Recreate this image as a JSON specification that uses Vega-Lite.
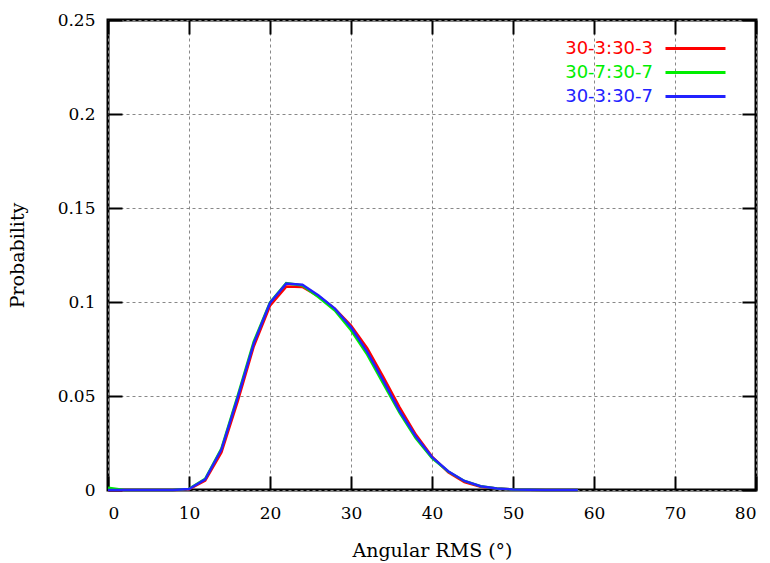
{
  "$schema": "https://vega.github.io/schema/vega-lite/v6.json",
  "width": 648,
  "height": 470,
  "autosize": "none",
  "padding": {"left": 108, "top": 20, "right": 14, "bottom": 73},
  "background": "white",
  "config": {
    "view": {"stroke": "black", "strokeWidth": 3},
    "axis": {
      "labelFont": "DejaVu Serif",
      "labelFontSize": 17,
      "labelColor": "black",
      "titleFont": "DejaVu Serif",
      "titleFontSize": 19,
      "titleFontWeight": "normal",
      "titleColor": "black",
      "domain": false,
      "tickColor": "black",
      "tickWidth": 2,
      "gridColor": "#888888",
      "gridDash": [3, 3],
      "gridWidth": 1,
      "gridOpacity": 1
    }
  },
  "data": {"values": [
    {"x": 0, "p": 0.0, "s": "30-3:30-3"},
    {"x": 2, "p": 0.0, "s": "30-3:30-3"},
    {"x": 4, "p": 0.0, "s": "30-3:30-3"},
    {"x": 6, "p": 0.0, "s": "30-3:30-3"},
    {"x": 8, "p": 0.0, "s": "30-3:30-3"},
    {"x": 10, "p": 0.0004, "s": "30-3:30-3"},
    {"x": 12, "p": 0.005, "s": "30-3:30-3"},
    {"x": 14, "p": 0.020, "s": "30-3:30-3"},
    {"x": 16, "p": 0.047, "s": "30-3:30-3"},
    {"x": 18, "p": 0.0765, "s": "30-3:30-3"},
    {"x": 20, "p": 0.098, "s": "30-3:30-3"},
    {"x": 22, "p": 0.1082, "s": "30-3:30-3"},
    {"x": 24, "p": 0.1080, "s": "30-3:30-3"},
    {"x": 26, "p": 0.103, "s": "30-3:30-3"},
    {"x": 28, "p": 0.0965, "s": "30-3:30-3"},
    {"x": 30, "p": 0.0875, "s": "30-3:30-3"},
    {"x": 32, "p": 0.0755, "s": "30-3:30-3"},
    {"x": 34, "p": 0.060, "s": "30-3:30-3"},
    {"x": 36, "p": 0.044, "s": "30-3:30-3"},
    {"x": 38, "p": 0.0295, "s": "30-3:30-3"},
    {"x": 40, "p": 0.0178, "s": "30-3:30-3"},
    {"x": 42, "p": 0.0095, "s": "30-3:30-3"},
    {"x": 44, "p": 0.0042, "s": "30-3:30-3"},
    {"x": 46, "p": 0.0017, "s": "30-3:30-3"},
    {"x": 48, "p": 0.0008, "s": "30-3:30-3"},
    {"x": 50, "p": 0.0003, "s": "30-3:30-3"},
    {"x": 52, "p": 0.0001, "s": "30-3:30-3"},
    {"x": 54, "p": 0.0, "s": "30-3:30-3"},
    {"x": 56, "p": 0.0, "s": "30-3:30-3"},
    {"x": 58, "p": 0.0, "s": "30-3:30-3"},
    {"x": 0, "p": 0.0012, "s": "30-7:30-7"},
    {"x": 2, "p": 0.0, "s": "30-7:30-7"},
    {"x": 4, "p": 0.0, "s": "30-7:30-7"},
    {"x": 6, "p": 0.0, "s": "30-7:30-7"},
    {"x": 8, "p": 0.0, "s": "30-7:30-7"},
    {"x": 10, "p": 0.0006, "s": "30-7:30-7"},
    {"x": 12, "p": 0.006, "s": "30-7:30-7"},
    {"x": 14, "p": 0.022, "s": "30-7:30-7"},
    {"x": 16, "p": 0.050, "s": "30-7:30-7"},
    {"x": 18, "p": 0.079, "s": "30-7:30-7"},
    {"x": 20, "p": 0.0998, "s": "30-7:30-7"},
    {"x": 22, "p": 0.1100, "s": "30-7:30-7"},
    {"x": 24, "p": 0.1088, "s": "30-7:30-7"},
    {"x": 26, "p": 0.1025, "s": "30-7:30-7"},
    {"x": 28, "p": 0.0955, "s": "30-7:30-7"},
    {"x": 30, "p": 0.085, "s": "30-7:30-7"},
    {"x": 32, "p": 0.072, "s": "30-7:30-7"},
    {"x": 34, "p": 0.0565, "s": "30-7:30-7"},
    {"x": 36, "p": 0.041, "s": "30-7:30-7"},
    {"x": 38, "p": 0.0275, "s": "30-7:30-7"},
    {"x": 40, "p": 0.017, "s": "30-7:30-7"},
    {"x": 42, "p": 0.0098, "s": "30-7:30-7"},
    {"x": 44, "p": 0.0048, "s": "30-7:30-7"},
    {"x": 46, "p": 0.002, "s": "30-7:30-7"},
    {"x": 48, "p": 0.0008, "s": "30-7:30-7"},
    {"x": 50, "p": 0.0003, "s": "30-7:30-7"},
    {"x": 52, "p": 0.0001, "s": "30-7:30-7"},
    {"x": 54, "p": 0.0, "s": "30-7:30-7"},
    {"x": 56, "p": 0.0, "s": "30-7:30-7"},
    {"x": 58, "p": 0.0, "s": "30-7:30-7"},
    {"x": 0, "p": 0.0, "s": "30-3:30-7"},
    {"x": 2, "p": 0.0, "s": "30-3:30-7"},
    {"x": 4, "p": 0.0, "s": "30-3:30-7"},
    {"x": 6, "p": 0.0, "s": "30-3:30-7"},
    {"x": 8, "p": 0.0, "s": "30-3:30-7"},
    {"x": 10, "p": 0.0005, "s": "30-3:30-7"},
    {"x": 12, "p": 0.0057, "s": "30-3:30-7"},
    {"x": 14, "p": 0.0215, "s": "30-3:30-7"},
    {"x": 16, "p": 0.049, "s": "30-3:30-7"},
    {"x": 18, "p": 0.078, "s": "30-3:30-7"},
    {"x": 20, "p": 0.0995, "s": "30-3:30-7"},
    {"x": 22, "p": 0.1098, "s": "30-3:30-7"},
    {"x": 24, "p": 0.1092, "s": "30-3:30-7"},
    {"x": 26, "p": 0.1035, "s": "30-3:30-7"},
    {"x": 28, "p": 0.0965, "s": "30-3:30-7"},
    {"x": 30, "p": 0.0865, "s": "30-3:30-7"},
    {"x": 32, "p": 0.0735, "s": "30-3:30-7"},
    {"x": 34, "p": 0.058, "s": "30-3:30-7"},
    {"x": 36, "p": 0.042, "s": "30-3:30-7"},
    {"x": 38, "p": 0.0285, "s": "30-3:30-7"},
    {"x": 40, "p": 0.0175, "s": "30-3:30-7"},
    {"x": 42, "p": 0.0100, "s": "30-3:30-7"},
    {"x": 44, "p": 0.0048, "s": "30-3:30-7"},
    {"x": 46, "p": 0.0020, "s": "30-3:30-7"},
    {"x": 48, "p": 0.0008, "s": "30-3:30-7"},
    {"x": 50, "p": 0.0003, "s": "30-3:30-7"},
    {"x": 52, "p": 0.0001, "s": "30-3:30-7"},
    {"x": 54, "p": 0.0, "s": "30-3:30-7"},
    {"x": 56, "p": 0.0, "s": "30-3:30-7"},
    {"x": 58, "p": 0.0, "s": "30-3:30-7"}
  ]},
  "layer": [
    {
      "mark": {"type": "line", "strokeWidth": 2.5, "strokeOpacity": 0},
      "encoding": {
        "x": {"field": "x", "type": "quantitative", "scale": {"domain": [0, 80], "nice": false},
              "axis": {"orient": "top", "labels": false, "title": null, "grid": false, "tickSize": -14, "values": [0,10,20,30,40,50,60,70,80]}},
        "y": {"field": "p", "type": "quantitative", "scale": {"domain": [0, 0.25], "nice": false},
              "axis": {"orient": "right", "labels": false, "title": null, "grid": false, "tickSize": -14, "values": [0,0.05,0.1,0.15,0.2,0.25]}},
        "detail": {"field": "s"}
      }
    },
    {
      "mark": {"type": "line", "strokeWidth": 2.5},
      "encoding": {
        "x": {"field": "x", "type": "quantitative", "scale": {"domain": [0, 80], "nice": false},
              "axis": {"orient": "bottom", "title": "Angular RMS (°)", "grid": true, "tickSize": -14, "labelPadding": 29, "titlePadding": 20, "values": [0,10,20,30,40,50,60,70,80]}},
        "y": {"field": "p", "type": "quantitative", "scale": {"domain": [0, 0.25], "nice": false},
              "axis": {"orient": "left", "title": "Probability", "grid": true, "tickSize": -14, "labelPadding": 27, "titlePadding": 30, "format": "~g", "values": [0,0.05,0.1,0.15,0.2,0.25]}},
        "color": {"field": "s", "type": "nominal", "sort": null,
                  "scale": {"domain": ["30-3:30-3", "30-7:30-7", "30-3:30-7"], "range": ["#ff0000", "#00ee00", "#2222ff"]},
                  "legend": {
                    "title": null, "orient": "none", "legendX": 576, "legendY": 17,
                    "symbolType": "M-3,0H3", "symbolSize": 400, "symbolStrokeWidth": 3,
                    "labelFont": "DejaVu Sans", "labelFontSize": 18, "labelAlign": "right", "labelOffset": -54,
                    "rowPadding": 3, "padding": 0,
                    "encode": {"labels": {"update": {"fill": {"scale": "color", "field": "value"}}}}
                  }}
      }
    }
  ],
  "resolve": {"axis": {"x": "independent", "y": "independent"}}
}
